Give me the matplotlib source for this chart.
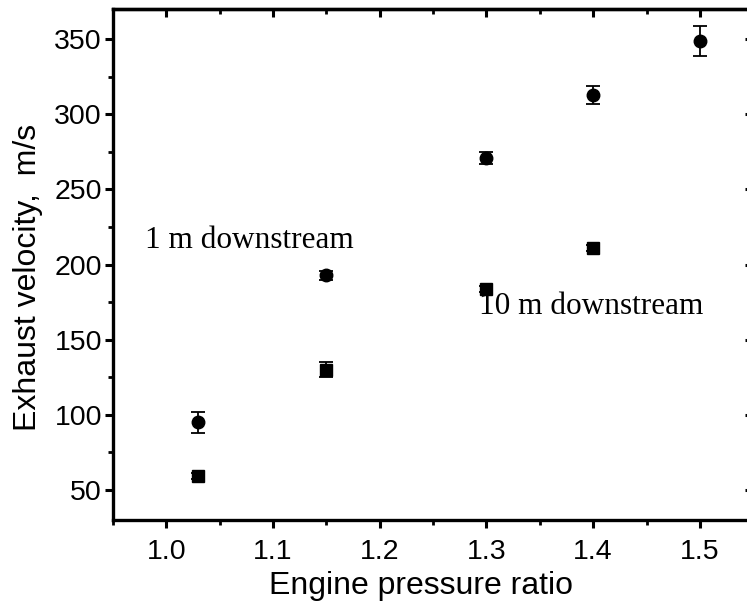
import matplotlib.pyplot as plt
from matplotlib.ticker import MultipleLocator

# engine pressure ratio
epr_1m = [1.03, 1.15, 1.30, 1.40, 1.50]
vel_1m = [95, 193, 271, 313, 349]
err_1m = [7, 3, 4, 6, 10]

epr_10m = [1.03, 1.15, 1.30, 1.40]
vel_10m = [59, 130, 184, 211]
err_10m = [2, 5, 2, 2]

fig = plt.figure(figsize=(7.47, 6.08), dpi=100)
ax = fig.add_axes([0.1513, 0.1447, 0.857, 0.8405])

ax.errorbar(epr_1m, vel_1m, yerr=err_1m, fmt='o', color='black', ms=9,
            capsize=5, elinewidth=1.3, capthick=1.3)
ax.errorbar(epr_10m, vel_10m, yerr=err_10m, fmt='s', color='black', ms=8,
            capsize=5, elinewidth=1.3, capthick=1.3)

ax.set_xlim(0.95, 1.55)
ax.set_ylim(30, 370)
ax.xaxis.set_major_locator(MultipleLocator(0.1))
ax.xaxis.set_minor_locator(MultipleLocator(0.05))
ax.yaxis.set_major_locator(MultipleLocator(50))
ax.yaxis.set_minor_locator(MultipleLocator(25))
ax.set_xticks([1.0, 1.1, 1.2, 1.3, 1.4, 1.5])
ax.set_yticks([50, 100, 150, 200, 250, 300, 350])

for s in ax.spines.values():
    s.set_linewidth(2.4)

sans = 'Liberation Sans'
ax.tick_params(which='both', direction='out', top=False, right=False,
               labelsize=20.5, width=2.2)
ax.tick_params(which='major', length=6)
ax.tick_params(which='minor', length=3.5, width=2)
ax.tick_params(axis='x', which='major', pad=7.5)
ax.tick_params(axis='y', which='major', pad=2)
for lab in ax.get_xticklabels() + ax.get_yticklabels():
    lab.set_fontfamily(sans)

# inward ticks on top and right
sec_x = ax.secondary_xaxis('top')
sec_x.xaxis.set_major_locator(MultipleLocator(0.1))
sec_x.xaxis.set_minor_locator(MultipleLocator(0.05))
sec_x.tick_params(which='both', direction='in', labeltop=False, width=2.2)
sec_x.tick_params(which='major', length=6)
sec_x.tick_params(which='minor', length=3.5, width=2)
sec_x.spines['top'].set_linewidth(2.4)
sec_y = ax.secondary_yaxis('right')
sec_y.yaxis.set_major_locator(MultipleLocator(50))
sec_y.yaxis.set_minor_locator(MultipleLocator(25))
sec_y.tick_params(which='both', direction='in', labelright=False, width=2.2)
sec_y.tick_params(which='major', length=6)
sec_y.tick_params(which='minor', length=3.5, width=2)
sec_y.spines['right'].set_linewidth(2.4)

ax.set_xlabel('Engine pressure ratio', fontsize=23, fontfamily=sans)
ax.set_ylabel('Exhaust velocity,  m/s', fontsize=23, fontfamily=sans)
ax.xaxis.set_label_coords(0.481, -0.100)
ax.yaxis.set_label_coords(-0.109, 0.475)

ax.text(0.980, 211, '1 m downstream', fontsize=22.5, fontfamily='Liberation Serif')
ax.text(1.293, 167, '10 m downstream', fontsize=22.5, fontfamily='Liberation Serif')

fig.savefig('out.png', dpi=100)
